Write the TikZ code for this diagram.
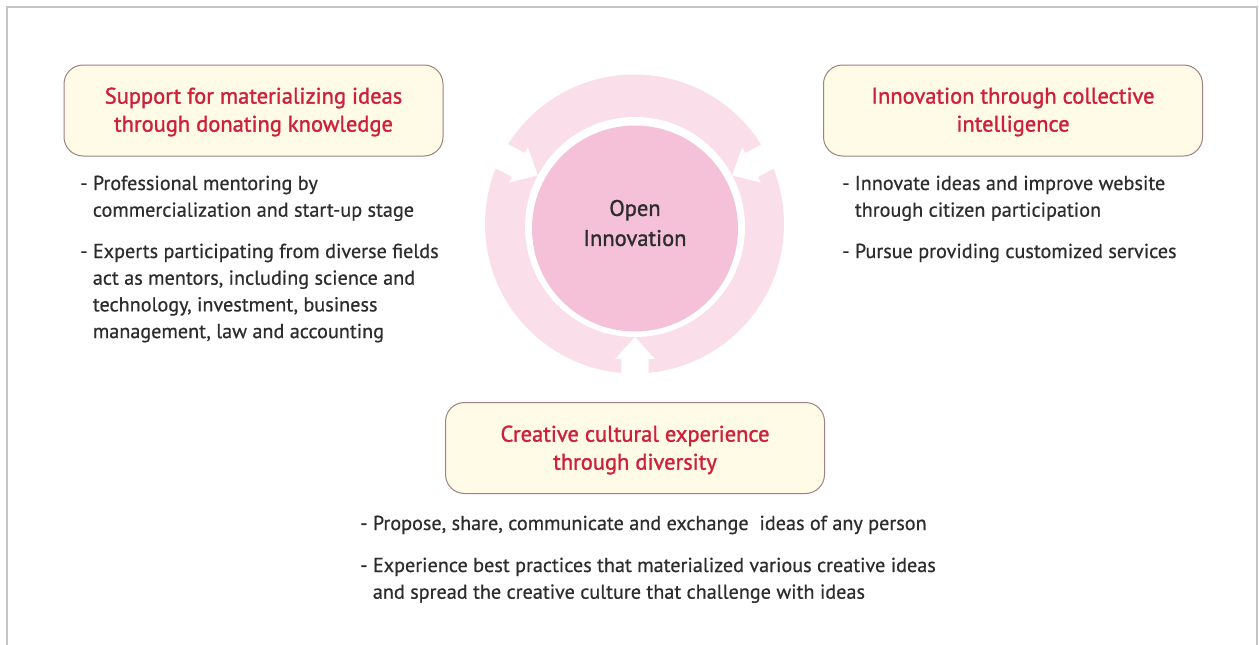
\documentclass[tikz,border=0pt]{standalone}
\usepackage{fontspec}
\setmainfont{PT Sans}
\newfontfamily\titlefont[FakeBold=1.3]{PT Sans}
\newfontfamily\bodyfont[FakeBold=0.6]{PT Sans}
\definecolor{ringpink}{RGB}{250,222,234}
\definecolor{corepink}{RGB}{245,193,216}
\definecolor{boxfill}{RGB}{255,251,230}
\definecolor{boxline}{RGB}{160,128,128}
\definecolor{titlered}{RGB}{206,32,58}
\definecolor{textgray}{RGB}{45,45,45}
\definecolor{framegray}{RGB}{196,196,196}
\newcommand\wharrow[1]{%
  \fill[white] ({#1}:110) -- ({#1+8.6}:133.5) -- ({#1+5.84}:132.7) -- ({#1+4.68}:168)
    -- ({#1-4.68}:168) -- ({#1-5.84}:132.7) -- ({#1-8.6}:133.5) -- cycle;}
\newcommand\blines[1]{\begin{tabular}[t]{@{}l@{}}#1\end{tabular}}
\begin{document}
\begin{tikzpicture}[x=1pt,y=-1pt,
  box/.style={draw=boxline, fill=boxfill, line width=1pt, rounded corners=19pt,
    minimum width=379pt, minimum height=91pt, inner sep=0pt},
  title/.style={align=center, inner sep=0pt, text=titlered,
    font=\titlefont\fontsize{22.5}{28}\selectfont},
  bullet/.style={anchor=base west, inner sep=0pt, text=textgray,
    font=\bodyfont\fontsize{20.2}{26.7}\selectfont}]
\useasboundingbox (0,0) rectangle (1259,645);
% frame
\draw[framegray, line width=2pt] (7,645) -- (7,7) -- (1257,7) -- (1257,645);
% ring
\fill[ringpink] (634.5,224) circle[radius=149.5];
\begin{scope}[shift={(635,227)}]
  \wharrow{90}
  \wharrow{208}
  \wharrow{332}
\end{scope}
\fill[white] (635,227) circle[radius=110];
\node[circle, fill=corepink, minimum size=206pt, inner sep=0pt] (core) at (635,228.5) {};
\node[align=center, inner sep=0pt, text=textgray,
  font=\titlefont\fontsize{22.5}{30}\selectfont] (coretext) at (635,223) {Open\\Innovation};
% boxes
\node[box] (left) at (253.5,110.5) {};
\node[title] (lefttitle) at (253.5,112) {Support for materializing ideas\\through donating knowledge};
\node[box] (right) at (1013,110.5) {};
\node[title] (righttitle) at (1013,112) {Innovation through collective\\intelligence};
\node[box] (bottom) at (635,448) {};
\node[title] (bottomtitle) at (635,450) {Creative cultural experience\\through diversity};
% bullets
\node[bullet] (l1) at (80,190) {\blines{-~Professional mentoring by\\\phantom{-~}commercialization and start-up stage}};
\node[bullet] (l2) at (80,258) {\blines{-~Experts participating from diverse fields\\\phantom{-~}act as mentors, including science and\\\phantom{-~}technology, investment, business\\\phantom{-~}management, law and accounting}};
\node[bullet] (r1) at (842,190) {\blines{-~Innovate ideas and improve website\\\phantom{-~}through citizen participation}};
\node[bullet] (r2) at (842,258) {\blines{-~Pursue providing customized services}};
\node[bullet] (b1) at (360,530) {\blines{-~Propose, share, communicate and exchange~~ideas of any person}};
\node[bullet] (b2) at (360,572) {\blines{-~Experience best practices that materialized various creative ideas\\\phantom{-~}and spread the creative culture that challenge with ideas}};
\end{tikzpicture}
\end{document}
